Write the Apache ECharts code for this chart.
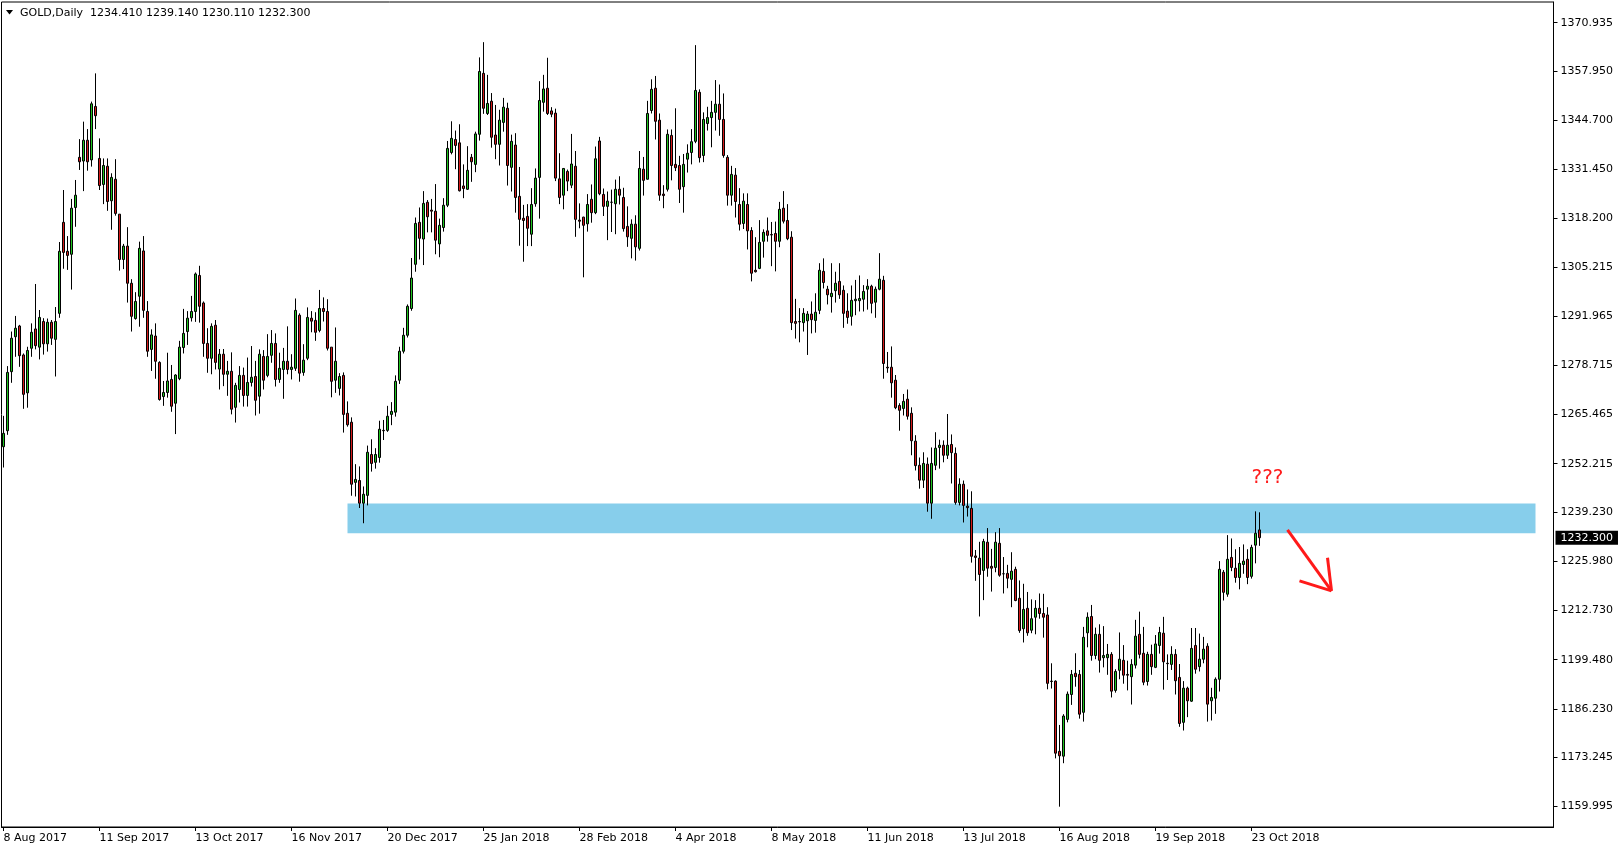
<!DOCTYPE html>
<html><head><meta charset="utf-8">
<script src="https://cdn.jsdelivr.net/npm/echarts@6/dist/echarts.min.js"></script>
<style>html,body{margin:0;padding:0;background:#fff;}#c{width:1621px;height:850px;}</style>
</head><body><div id="c"></div>
<script>
const symbolName = 'GOLD,Daily';
const opens = [1256.8,1261.1,1277.0,1286.4,1289.3,1281.5,1271.3,1283.3,1288.5,1283.6,
1290.5,1284.5,1290.3,1285.7,1292.7,1317.2,1309.4,1308.6,1321.2,1334.7,
1333.7,1339.3,1334.0,1348.4,1334.4,1327.4,1332.3,1323.0,1328.8,1319.4,
1307.2,1310.8,1300.8,1291.3,1297.3,1309.5,1293.2,1283.0,1286.6,1279.5,
1270.3,1271.4,1274.9,1268.5,1275.1,1283.5,1287.8,1291.5,1293.2,1302.9,
1295.5,1284.6,1280.6,1289.5,1277.7,1281.7,1276.3,1277.1,1267.4,1272.2,
1276.0,1270.6,1274.1,1275.7,1270.4,1281.1,1276.0,1281.4,1284.6,1274.9,
1277.6,1279.8,1277.6,1277.9,1292.2,1276.8,1280.6,1291.4,1290.8,1288.1,
1294.0,1293.2,1283.6,1274.7,1272.5,1276.0,1265.8,1263.4,1247.2,1247.7,
1241.6,1243.7,1254.7,1252.6,1253.9,1261.2,1261.2,1265.5,1266.1,1274.7,
1282.5,1286.8,1294.0,1305.9,1317.2,1312.7,1322.6,1320.5,1320.2,1311.4,
1315.8,1321.8,1336.0,1339.5,1338.6,1327.0,1326.1,1334.7,1332.8,1340.9,
1357.3,1346.5,1349.8,1340.7,1338.2,1344.1,1347.9,1332.0,1338.0,1324.2,
1318.3,1318.8,1314.0,1322.2,1329.3,1349.5,1353.3,1347.2,1346.6,1328.9,
1324.5,1330.9,1327.2,1332.3,1317.8,1318.6,1316.8,1323.4,1319.8,1339.1,
1324.7,1321.5,1322.6,1322.2,1326.1,1323.9,1316.1,1312.9,1316.7,1310.2,
1331.5,1328.8,1347.3,1353.3,1344.7,1324.8,1326.1,1340.6,1332.8,1332.5,
1326.8,1334.2,1336.0,1339.0,1352.2,1335.2,1343.8,1345.4,1346.8,1349.0,
1344.9,1334.7,1324.5,1329.9,1322.0,1316.9,1322.0,1315.0,1304.3,1304.8,
1312.1,1314.9,1313.9,1314.2,1312.1,1321.0,1317.7,1313.2,1290.5,1290.5,
1290.2,1290.7,1292.5,1290.8,1293.5,1304.0,1299.2,1297.2,1298.8,1301.3,
1298.9,1293.3,1291.9,1296.1,1296.1,1296.5,1299.2,1300.0,1295.7,1299.2,
1301.6,1278.2,1278.2,1274.7,1267.9,1267.1,1269.6,1265.8,1258.3,1251.8,
1247.8,1252.1,1241.6,1251.8,1256.6,1257.2,1254.5,1257.4,1255.0,1241.8,
1246.7,1240.8,1240.2,1227.4,1226.8,1223.5,1231.1,1224.6,1224.3,1230.8,
1222.6,1222.7,1221.1,1223.8,1216.0,1207.8,1213.3,1207.4,1210.9,1213.3,
1211.9,1211.5,1193.7,1193.7,1174.8,1173.5,1183.4,1190.1,1195.8,1195.5,
1185.3,1206.7,1211.1,1200.6,1206.3,1200.0,1200.0,1200.9,1191.2,1196.6,
1199.3,1195.5,1194.9,1198.0,1206.3,1201.2,1193.6,1200.9,1197.4,1203.3,
1206.6,1198.5,1198.2,1200.9,1194.7,1182.6,1191.8,1188.3,1203.3,1197.6,
1199.6,1203.1,1188.4,1189.1,1194.2,1223.0,1217.1,1227.0,1224.1,1221.6,
1225.1,1226.5,1221.9,1230.3,1234.41];
const closes = [1260.4,1276.8,1286.0,1288.7,1281.3,1270.9,1282.7,1287.6,1284.0,1291.6,
1284.5,1290.3,1286.0,1290.5,1309.4,1309.1,1308.3,1321.0,1324.5,1333.5,
1339.3,1333.5,1349.1,1345.9,1327.1,1332.5,1322.8,1329.3,1319.6,1307.2,
1310.8,1300.8,1291.9,1295.9,1310.2,1293.5,1282.5,1286.9,1279.8,1269.5,
1271.4,1274.5,1267.7,1276.1,1283.6,1287.3,1291.4,1293.2,1303.3,1294.6,
1284.6,1280.6,1289.2,1279.5,1281.7,1276.3,1277.1,1266.9,1273.3,1276.0,
1270.6,1274.1,1275.5,1269.3,1281.7,1274.7,1281.1,1284.6,1274.9,1277.9,
1279.8,1277.6,1278.2,1293.5,1276.6,1280.1,1291.6,1290.6,1287.6,1294.0,
1293.2,1283.3,1274.4,1279.8,1275.7,1265.5,1262.7,1246.7,1248.0,1241.6,
1244.0,1255.3,1252.3,1254.7,1261.5,1261.1,1265.0,1266.3,1274.4,1282.5,
1286.8,1294.6,1302.2,1316.9,1312.9,1322.3,1318.7,1320.2,1312.4,1316.4,
1321.8,1337.1,1339.8,1337.9,1325.7,1326.3,1331.2,1333.5,1341.0,1357.8,
1347.9,1349.2,1340.1,1338.2,1344.7,1348.2,1332.5,1339.0,1323.9,1318.0,
1317.7,1315.6,1322.0,1329.1,1350.0,1353.1,1346.5,1346.3,1329.1,1323.9,
1331.7,1328.3,1332.9,1318.0,1317.5,1316.4,1322.0,1319.8,1334.3,1324.9,
1321.5,1322.9,1322.6,1326.1,1324.5,1315.5,1313.3,1316.7,1310.6,1331.7,
1328.5,1346.5,1353.0,1344.4,1324.5,1324.4,1340.9,1332.5,1331.9,1326.1,
1332.8,1335.8,1338.9,1352.7,1334.6,1344.9,1345.4,1346.8,1349.0,1344.9,
1335.2,1324.5,1330.1,1322.8,1316.7,1322.9,1314.9,1303.5,1303.9,1311.8,
1314.5,1313.7,1313.8,1312.1,1320.7,1317.5,1312.8,1290.2,1290.0,1290.4,
1292.7,1292.5,1291.0,1293.0,1304.3,1301.0,1297.7,1298.1,1300.8,1297.7,
1292.7,1291.6,1296.2,1296.5,1296.7,1298.6,1300.0,1295.4,1299.2,1301.9,
1279.2,1278.0,1274.0,1267.3,1266.6,1269.0,1265.0,1258.4,1251.7,1247.8,
1252.3,1241.6,1252.3,1256.4,1257.2,1254.5,1257.2,1255.2,1241.8,1246.7,
1241.0,1240.4,1227.3,1227.0,1222.4,1231.3,1224.1,1224.1,1231.1,1222.2,
1222.6,1221.4,1223.3,1215.4,1207.3,1213.0,1206.7,1210.5,1213.3,1211.9,
1210.9,1193.1,1193.6,1174.3,1173.6,1184.3,1190.2,1195.5,1194.9,1184.8,
1205.5,1210.9,1200.6,1206.3,1199.3,1200.6,1200.9,1191.0,1196.3,1199.6,
1195.3,1195.3,1198.2,1205.8,1200.9,1193.4,1200.9,1197.6,1203.7,1206.8,
1198.9,1198.4,1200.9,1193.8,1182.3,1191.8,1188.4,1202.5,1196.9,1199.6,
1202.3,1187.5,1189.3,1194.2,1223.8,1217.6,1226.5,1224.3,1221.6,1225.4,
1226.0,1221.6,1229.7,1233.5,1232.30];
const lows = [1251.2,1260.0,1274.0,1281.0,1278.3,1267.0,1267.3,1281.0,1283.0,1280.3,
1281.6,1282.4,1284.2,1275.7,1291.5,1304.7,1304.4,1299.1,1316.0,1331.3,
1325.6,1331.1,1332.2,1342.3,1325.9,1322.1,1320.3,1315.2,1319.0,1304.2,
1304.6,1295.6,1287.8,1291.0,1289.1,1291.5,1281.0,1277.2,1275.1,1269.2,
1267.8,1270.0,1266.2,1260.2,1274.7,1281.9,1284.2,1290.5,1290.4,1290.2,
1281.0,1276.7,1276.3,1277.6,1272.2,1273.1,1270.5,1265.5,1263.3,1268.7,
1267.6,1267.6,1273.0,1265.2,1265.7,1272.2,1275.5,1279.4,1273.0,1274.0,
1269.7,1276.3,1274.9,1277.2,1274.3,1275.9,1280.1,1287.6,1285.3,1287.6,
1290.5,1282.7,1270.1,1271.3,1270.6,1260.6,1262.2,1243.6,1243.4,1240.3,
1236.2,1241.0,1250.1,1250.9,1252.5,1258.6,1260.8,1262.6,1264.9,1273.7,
1281.9,1286.2,1293.4,1303.9,1307.2,1305.7,1314.5,1314.5,1308.6,1307.8,
1314.7,1321.3,1335.5,1331.5,1325.5,1323.7,1325.9,1328.1,1330.7,1339.2,
1346.4,1346.1,1337.3,1334.2,1332.5,1341.6,1327.1,1325.5,1319.8,1310.9,
1306.6,1310.8,1310.8,1321.4,1318.2,1347.0,1346.1,1345.5,1328.3,1322.1,
1320.7,1325.6,1326.4,1313.3,1315.6,1302.4,1314.7,1317.1,1319.4,1324.5,
1318.9,1312.4,1314.6,1314.0,1322.0,1314.7,1310.6,1307.5,1306.9,1309.6,
1324.4,1328.7,1346.5,1339.5,1323.0,1321.0,1325.5,1328.5,1331.0,1322.4,
1319.8,1330.6,1332.8,1338.5,1333.3,1333.4,1341.9,1337.4,1341.9,1340.5,
1334.6,1321.7,1321.7,1318.5,1315.0,1315.4,1309.9,1301.3,1303.7,1304.6,
1307.7,1312.0,1305.4,1304.0,1310.5,1316.9,1312.4,1288.2,1285.9,1284.9,
1287.8,1281.5,1287.3,1287.5,1292.5,1299.4,1295.1,1292.9,1295.6,1296.6,
1288.8,1289.9,1289.4,1292.2,1293.2,1293.2,1293.7,1292.7,1291.5,1298.9,
1275.1,1276.7,1270.0,1266.9,1261.1,1265.2,1264.1,1254.5,1250.4,1245.5,
1245.7,1239.3,1237.4,1250.5,1250.9,1252.6,1253.5,1246.9,1241.2,1241.0,
1236.4,1238.0,1225.6,1220.7,1211.1,1215.5,1221.8,1217.8,1223.0,1221.8,
1217.3,1218.7,1213.6,1215.2,1206.7,1204.1,1205.9,1206.6,1206.3,1210.5,
1205.4,1191.5,1191.7,1172.9,1159.9,1171.6,1182.6,1187.3,1192.2,1183.6,
1182.8,1202.8,1199.2,1199.6,1196.0,1197.4,1195.4,1189.3,1190.6,1194.2,
1193.0,1191.2,1187.4,1197.1,1199.8,1192.6,1192.5,1195.4,1197.2,1201.1,
1191.4,1194.0,1196.7,1190.1,1181.4,1180.4,1184.0,1188.1,1195.7,1196.3,
1198.5,1182.8,1183.1,1184.9,1190.9,1215.4,1216.4,1223.3,1220.2,1218.4,
1222.6,1219.8,1221.3,1225.4,1230.11];
const highs = [1265.1,1278.5,1287.8,1292.0,1289.6,1281.9,1283.7,1290.0,1300.6,1293.6,
1291.4,1291.3,1290.9,1294.4,1311.9,1325.9,1313.5,1323.5,1328.6,1339.6,
1344.3,1342.3,1349.7,1357.3,1339.8,1334.4,1334.4,1330.4,1334.2,1319.4,
1311.4,1315.9,1301.9,1298.4,1312.0,1313.5,1296.0,1288.4,1290.0,1279.8,
1274.5,1282.1,1278.8,1276.3,1285.3,1293.9,1293.3,1297.4,1303.7,1305.5,
1295.9,1288.7,1290.0,1290.9,1283.1,1283.1,1279.9,1282.2,1274.0,1278.5,
1278.1,1280.8,1283.9,1279.9,1283.0,1282.8,1287.1,1288.2,1287.3,1282.1,
1283.4,1289.2,1281.7,1296.7,1292.7,1284.4,1294.3,1293.3,1293.0,1299.0,
1297.0,1296.5,1283.6,1288.9,1276.6,1276.8,1269.0,1264.7,1252.1,1251.5,
1246.1,1257.1,1258.8,1256.4,1263.8,1264.0,1267.8,1268.8,1276.0,1283.7,
1288.8,1295.1,1307.6,1318.5,1321.2,1325.6,1323.2,1323.5,1327.5,1318.2,
1323.7,1339.1,1344.4,1341.9,1343.6,1332.8,1337.7,1335.6,1341.6,1361.6,
1365.7,1356.9,1352.0,1348.8,1347.5,1350.7,1349.4,1340.8,1341.2,1332.1,
1321.9,1322.1,1326.4,1331.7,1355.2,1356.9,1361.5,1348.2,1347.8,1335.8,
1331.8,1331.4,1341.0,1336.4,1322.3,1318.7,1324.8,1327.4,1337.6,1340.2,
1326.3,1325.5,1326.0,1328.7,1329.6,1326.5,1321.5,1318.0,1319.1,1336.4,
1334.8,1349.9,1355.7,1356.6,1346.5,1327.2,1342.2,1342.2,1347.9,1335.1,
1335.6,1338.2,1342.3,1364.9,1353.0,1346.8,1348.3,1349.9,1355.5,1354.3,
1351.9,1335.3,1332.4,1331.8,1326.4,1325.0,1325.0,1315.9,1313.2,1317.8,
1315.3,1318.5,1317.3,1317.4,1322.7,1325.6,1322.1,1314.8,1296.6,1294.1,
1294.1,1293.3,1295.9,1298.1,1306.2,1307.5,1300.1,1306.2,1303.9,1306.2,
1300.2,1298.1,1300.2,1301.7,1302.9,1300.3,1301.9,1300.4,1299.9,1308.9,
1302.8,1282.3,1283.8,1276.1,1268.5,1271.0,1272.2,1267.4,1259.9,1253.9,
1255.3,1253.9,1256.6,1260.7,1258.7,1258.5,1265.6,1260.1,1256.6,1248.3,
1247.7,1245.3,1244.8,1229.0,1231.2,1232.0,1234.9,1229.3,1233.8,1234.9,
1227.1,1225.0,1228.4,1224.5,1220.8,1219.9,1217.7,1215.7,1215.5,1217.3,
1217.2,1213.6,1198.5,1193.9,1181.9,1184.8,1190.9,1196.7,1201.2,1196.7,
1208.3,1212.2,1214.2,1208.1,1209.0,1208.5,1203.7,1201.5,1196.9,1206.8,
1203.4,1199.2,1199.6,1210.2,1212.4,1208.3,1201.6,1203.5,1206.1,1208.3,
1211.0,1200.9,1203.1,1202.3,1198.3,1193.7,1192.2,1208.0,1208.0,1206.5,
1205.6,1203.9,1191.9,1194.7,1226.0,1223.6,1233.0,1232.1,1229.2,1229.8,
1230.5,1229.2,1230.4,1239.4,1239.14];
const dateLabels = ['8 Aug 2017','11 Sep 2017','13 Oct 2017','16 Nov 2017','20 Dec 2017','25 Jan 2018','28 Feb 2018','4 Apr 2018','8 May 2018','11 Jun 2018','13 Jul 2018','16 Aug 2018','19 Sep 2018','23 Oct 2018'];
const priceTicks = [1370.935,1357.950,1344.700,1331.450,1318.200,1305.215,1291.965,1278.715,1265.465,1252.215,1239.230,1225.980,1212.730,1199.480,1186.230,1173.245,1159.995];
const holidays = ['2017-12-25','2018-01-01','2018-03-30'];
const zoneTop = 1241.5, zoneBottom = 1233.5, zoneStartBar = 86, zoneEndBar = 383;
const arrowPts = [[321,1234.4],[332,1218.0],[331,1226.9],[324,1220.7]];
const qmark = [316,1248.5];

const totalSlots = 388;
const cats = [];
let d = new Date(Date.UTC(2017,7,8));
while (cats.length < totalSlots) {
  const wd = d.getUTCDay();
  const s = d.toISOString().slice(0,10);
  if (wd !== 0 && wd !== 6 && holidays.indexOf(s) < 0) cats.push(s);
  d.setUTCDate(d.getUTCDate()+1);
}
const candles = opens.map((o,i)=>[o, closes[i], lows[i], highs[i]]);
const n = opens.length - 1;
const lastPrice = closes[n];
const headerText = symbolName + '  ' + [opens[n], highs[n], lows[n], closes[n]].map(v=>v.toFixed(3)).join(' ');
const FONT = 'DejaVu Sans';
const isDateTick = i => i % 24 === 0 && i / 24 < dateLabels.length;
const P = (p) => [cats[p[0]], p[1]];

const chart = echarts.init(document.getElementById('c'), null, {renderer:'canvas'});
chart.setOption({
  animation: false,
  backgroundColor: '#fff',
  title: {text: headerText, left: 20, top: 8, padding: 0,
    textStyle: {fontFamily: FONT, fontSize: 11, fontWeight: 'normal', color: '#000'}},
  graphic: [{type:'polygon', shape:{points:[[6,10],[13,10],[9.5,14.5]]}, style:{fill:'#000'}}],
  grid: {left: 1.5, right: 67.5, top: 2, bottom: 23, show: true, borderColor: '#000', borderWidth: 1, backgroundColor: '#fff'},
  xAxis: {
    type: 'category', data: cats, boundaryGap: true,
    axisLine: {show: true, lineStyle: {color: '#000', width: 1}},
    axisTick: {show: true, alignWithLabel: true, interval: (i)=>isDateTick(i), length: 4, lineStyle: {color: '#000'}},
    axisLabel: {interval: (i)=>isDateTick(i), formatter: (v,i)=> isDateTick(i) ? dateLabels[i/24] : '',
      align: 'left', color: '#000', fontFamily: FONT, fontSize: 11, margin: 6},
    splitLine: {show: false}
  },
  yAxis: {
    type: 'value', position: 'right', min: 1154.43, max: 1376.51,
    splitLine: {show: false},
    axisLine: {show: true, lineStyle: {color: '#000', width: 1}},
    axisTick: {show: true, customValues: priceTicks, length: 4, lineStyle: {color: '#000'}},
    axisLabel: {customValues: priceTicks, formatter: v => v.toFixed(3), color: '#000', fontFamily: FONT, fontSize: 11, margin: 7}
  },
  series: [{
    type: 'candlestick', name: 'GOLD', data: candles, barWidth: 2, z: 3,
    itemStyle: {color: '#1fc41f', color0: '#d41a1a', borderColor: '#000', borderColor0: '#000', borderColorDoji: '#000', borderWidth: 1},
    emphasis: {disabled: true},
    markArea: {silent: true, itemStyle: {color: '#87ceeb', opacity: 1},
      data: [[{xAxis: cats[zoneStartBar], yAxis: zoneTop}, {xAxis: cats[zoneEndBar], yAxis: zoneBottom}]]},
    markLine: {silent: true, symbol: ['none','none'], animation: false,
      lineStyle: {color: 'rgba(0,0,0,0)', width: 0},
      label: {show: true, position: 'end', formatter: lastPrice.toFixed(3), backgroundColor: '#000', color: '#fff',
        fontFamily: FONT, fontSize: 11, padding: [2,5,1,5], distance: 2},
      emphasis: {disabled: true},
      data: [{yAxis: lastPrice}]}
  }, {
    type: 'line', name: 'annot', data: [], z: 6,
    markLine: {silent: true, symbol: ['none','none'], animation: false,
      lineStyle: {color: '#ff1a1a', width: 3, type: 'solid'}, label: {show: false}, emphasis: {disabled: true},
      data: [[{coord: P(arrowPts[0])}, {coord: P(arrowPts[1])}],
             [{coord: P(arrowPts[2])}, {coord: P(arrowPts[1])}],
             [{coord: P(arrowPts[3])}, {coord: P(arrowPts[1])}]]},
    markPoint: {silent: true, symbol: 'circle', symbolSize: 1, itemStyle: {color: 'rgba(0,0,0,0)'},
      label: {show: true, position: 'inside', formatter: '???', color: '#ff1a1a', fontFamily: FONT, fontSize: 20},
      data: [{coord: P(qmark)}]}
  }]
});
</script></body></html>
